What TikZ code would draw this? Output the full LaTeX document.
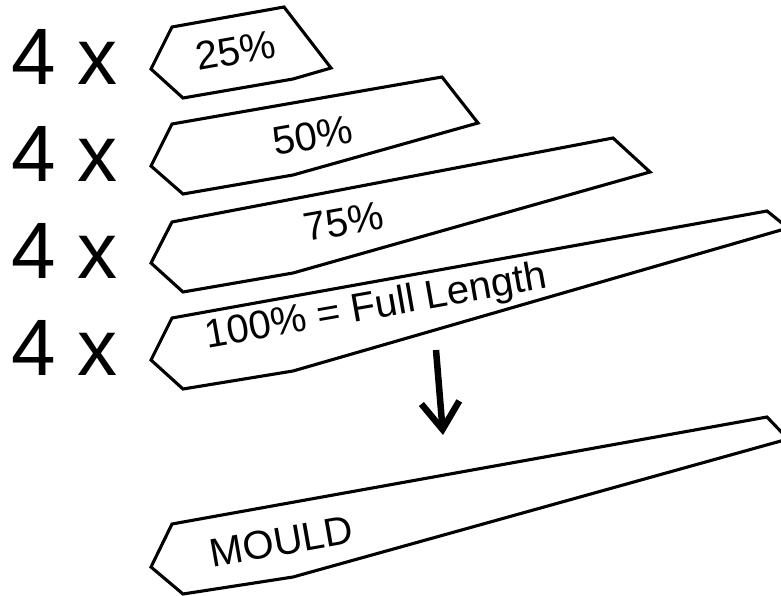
\documentclass[tikz,border=0pt]{standalone}
\usepackage{fontspec}
\setmainfont{Liberation Sans}
\usetikzlibrary{arrows.meta}

\tikzset{
  blade/.style={draw, line width=3.1pt, line join=miter},
  lbl/.style={font=\fontsize{40}{48}\selectfont, inner sep=0pt, anchor=base, rotate=10},
  count/.style={font=\fontsize{80}{96}\selectfont, inner sep=0pt, anchor=base west},
}

\begin{document}
\begin{tikzpicture}[x=1pt, y=-1pt, >={Straight Barb[length=27pt,width=38pt]}]
		\useasboundingbox (0,0) rectangle (781,596);
		\clip (0,0) rectangle (781,596);
		% how many of each
		\node[count] (c25) at (11,85) {4 x};
		\node[count] (c50) at (11,182) {4 x};
		\node[count] (c75) at (11,278) {4 x};
		\node[count] (c100) at (11,375) {4 x};
		% the strips
		\draw[blade] (151,69)--(172,27)--(284,7)--(331,68)--(293,79)--(183,98)--cycle;
		\draw[blade] (151,166)--(172,124)--(442,77)--(478,123)--(293,175)--(183,194)--cycle;
		\draw[blade] (151,263)--(172,222)--(613,138)--(650,172)--(293,273)--(183,292)--cycle;
		\draw[blade] (151,360)--(172,318)--(767,211)--(788,228)--(293,371)--(183,389)--cycle;
		\draw[blade] (151,567)--(172,524)--(767,417)--(788,439)--(293,577)--(183,594)--cycle;
		\node[lbl] (p25) at (238,64) {25\%};
		\node[lbl] (p50) at (315,149) {50\%};
		\node[lbl] (p75) at (346,235) {75\%};
		\node[lbl] (full) at (378,318) {100\% = Full Length};
		\node[lbl] (mould) at (284,555) {MOULD};
		% down to the mould
		\coordinate (arrowtop) at (436,350);
		\coordinate (arrowtip) at (443,435);
		\draw[->, line width=6.5pt] (arrowtop)--(arrowtip);
\end{tikzpicture}
\end{document}
